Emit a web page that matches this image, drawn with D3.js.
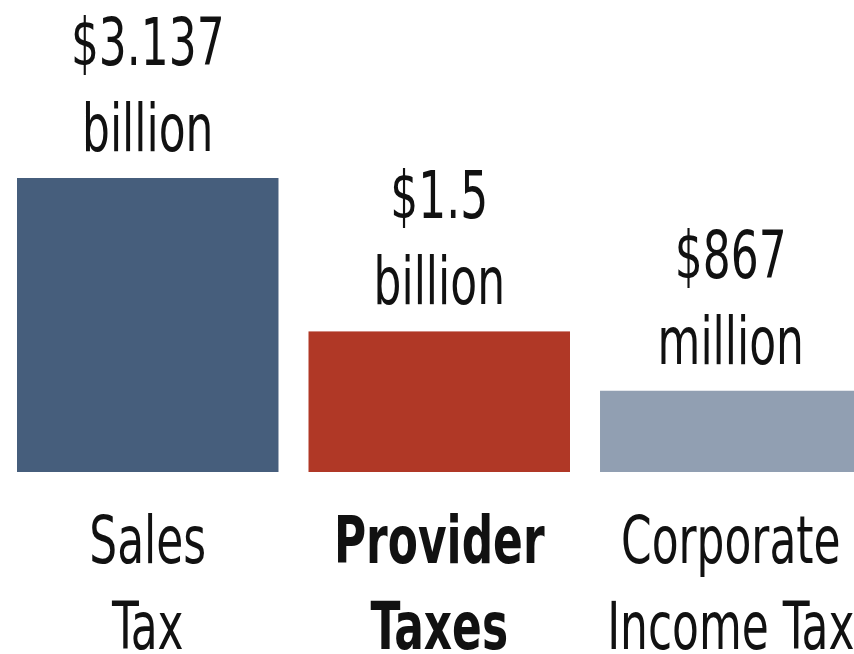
<!DOCTYPE html>
<html>
<head>
<meta charset="utf-8">
<script src="https://cdn.jsdelivr.net/npm/d3@7"></script>
<style>
  html, body { margin: 0; padding: 0; background: #fff; }
  svg { display: block; }
  .lbl { font-family: "Liberation Sans Narrow", "DejaVu Sans Condensed", "Noto Sans", sans-serif; font-size: 66px; fill: #111; }
</style>
</head>
<body>
<div id="chart"></div>
<script>
// the three revenue sources, values in billions of dollars
var categories = ["Sales Tax", "Provider Taxes", "Corporate Income Tax"];
var catLines = [["Sales", "Tax"], ["Provider", "Taxes"], ["Corporate", "Income Tax"]];
var values = [3.137, 1.5, 0.867];
var valueLines = [["$3.137", "billion"], ["$1.5", "billion"], ["$867", "million"]];
var barColors = ["#465e7c", "#b03826", "#919fb2"];
var boldCats = ["Provider Taxes"];

var width = 854, height = 654;
var baseY = 472;
var squeeze = 0.74; // condensed look

var svg = d3.select("#chart").append("svg")
    .attr("width", width)
    .attr("height", height);

var x = d3.scaleBand()
    .domain(categories)
    .range([17, 861.5])
    .paddingInner(0.103)
    .paddingOuter(0);

var y = d3.scaleLinear()
    .domain([0, 3.137])
    .range([baseY, 178]);

var data = categories.map(function(c, i) {
  return { cat: c, value: values[i], lines: catLines[i], vlines: valueLines[i], color: barColors[i] };
});

// bars
svg.selectAll("rect.bar")
  .data(data)
  .enter().append("rect")
    .attr("class", "bar")
    .attr("x", function(d) { return x(d.cat); })
    .attr("y", function(d) { return y(d.value); })
    .attr("width", x.bandwidth())
    .attr("height", function(d) { return baseY - y(d.value); })
    .attr("fill", function(d) { return d.color; });

// value labels above the bars
data.forEach(function(d) {
  var cx = x(d.cat) + x.bandwidth() / 2;
  var top = y(d.value);
  d.vlines.forEach(function(t, j) {
    var ly = top - 27 - (d.vlines.length - 1 - j) * 86;
    svg.append("text")
      .attr("class", "lbl")
      .attr("text-anchor", "middle")
      .attr("transform", "translate(" + cx + "," + ly + ") scale(" + squeeze + ",1)")
      .text(t);
  });

  // category labels under the bars
  d.lines.forEach(function(t, j) {
    svg.append("text")
      .attr("class", "lbl")
      .attr("text-anchor", "middle")
      .attr("font-weight", boldCats.indexOf(d.cat) >= 0 ? "bold" : "normal")
      .attr("transform", "translate(" + cx + "," + (563 + j * 86) + ") scale(" + squeeze + ",1)")
      .text(t);
  });
});
</script>
</body>
</html>
